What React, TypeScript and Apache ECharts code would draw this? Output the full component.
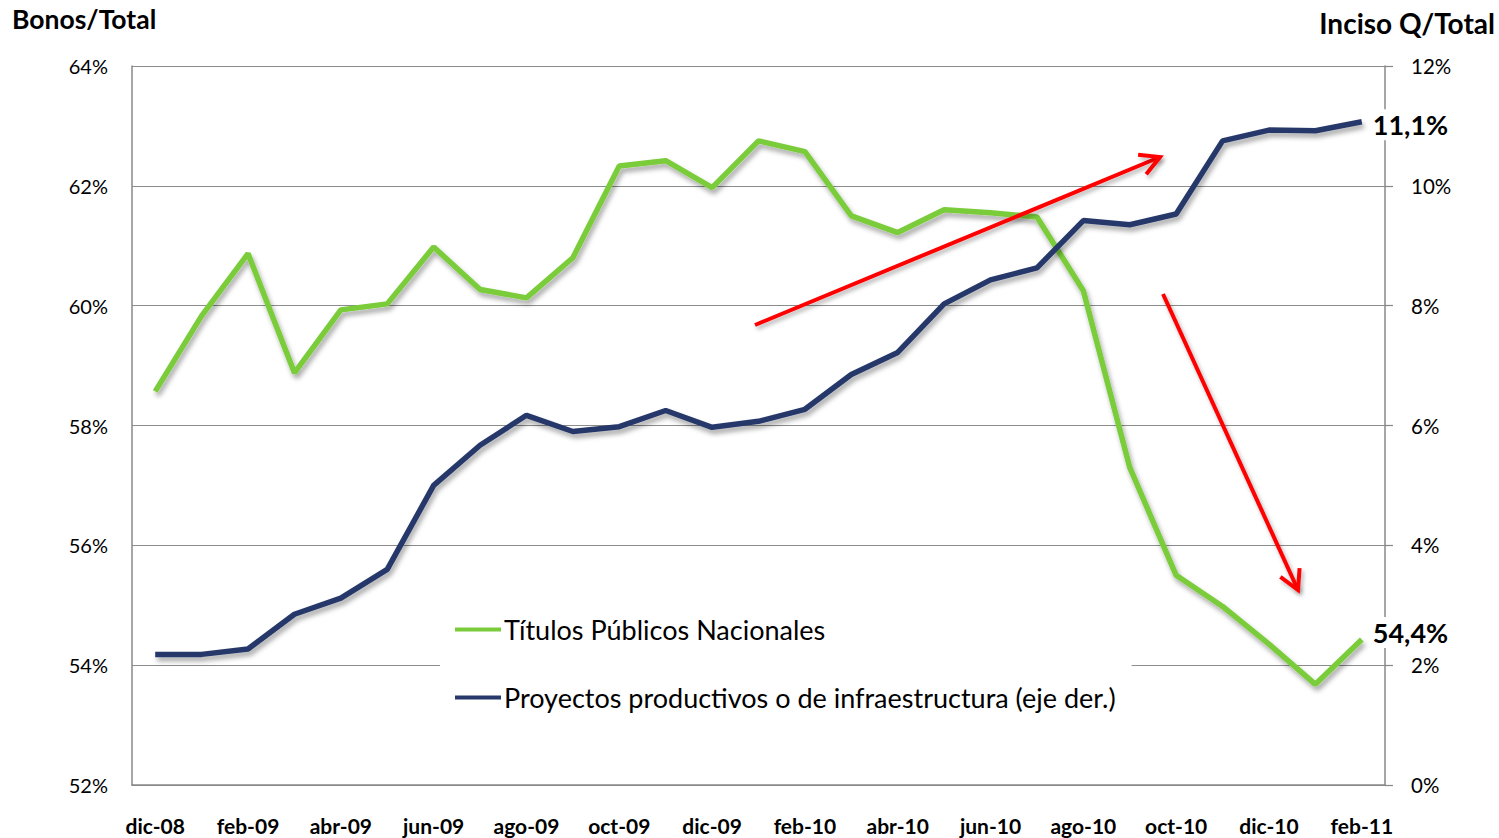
import React, { useEffect, useRef } from "react";
import * as echarts from "echarts";

const categories = [
  "dic-08", "ene-09", "feb-09", "mar-09", "abr-09", "may-09", "jun-09", "jul-09", "ago-09",
  "sep-09", "oct-09", "nov-09", "dic-09", "ene-10", "feb-10", "mar-10", "abr-10", "may-10",
  "jun-10", "jul-10", "ago-10", "sep-10", "oct-10", "nov-10", "dic-10", "ene-11", "feb-11",
];

const titulosPublicos = [
  58.57, 59.83, 60.87, 58.88, 59.93, 60.03, 60.98, 60.27, 60.13,
  60.8, 62.33, 62.42, 61.97, 62.75, 62.57, 61.5, 61.22, 61.6,
  61.55, 61.48, 60.25, 57.3, 55.5, 54.98, 54.35, 53.68, 54.43,
];

const proyectosProductivos = [
  2.18, 2.18, 2.27, 2.85, 3.12, 3.6, 5.0, 5.67, 6.17,
  5.9, 5.98, 6.25, 5.97, 6.07, 6.27, 6.85, 7.22, 8.03,
  8.43, 8.63, 9.42, 9.35, 9.53, 10.75, 10.93, 10.92, 11.07,
];

const seriesNames = ["Títulos Públicos Nacionales", "Proyectos productivos o de infraestructura (eje der.)"];
const axisTitles = ["Bonos/Total", "Inciso Q/Total"];

const FONT = "Lato, 'Open Sans', sans-serif";
const GREEN = "#7ACC3A";
const NAVY = "#26396A";

function arrow(x1: number, y1: number, x2: number, y2: number) {
  const ang = Math.atan2(y2 - y1, x2 - x1);
  const len = 22;
  const spread = 0.5;
  const p1 = [x2 - len * Math.cos(ang - spread), y2 - len * Math.sin(ang - spread)];
  const p2 = [x2 - len * Math.cos(ang + spread), y2 - len * Math.sin(ang + spread)];
  const shadow = { shadowColor: "rgba(0,0,0,0.3)", shadowBlur: 4, shadowOffsetX: 2, shadowOffsetY: 3 };
  return [
    { type: "line", shape: { x1, y1, x2, y2 }, style: { stroke: "#FF0000", lineWidth: 4, ...shadow }, z: 100 },
    { type: "polyline", shape: { points: [p1, [x2, y2], p2] }, style: { stroke: "#FF0000", lineWidth: 4, fill: null, lineJoin: "miter", ...shadow }, z: 100 },
  ];
}

function pctLabel(v: number) {
  return v.toFixed(1).replace(".", ",") + "%";
}

export default function App() {
  const ref = useRef<HTMLDivElement>(null);
  useEffect(() => {
    if (!ref.current) return;
    const chart = echarts.init(ref.current, undefined, { renderer: "svg" });
    const lineShadow = { shadowColor: "rgba(0,0,0,0.35)", shadowBlur: 5, shadowOffsetX: 2, shadowOffsetY: 4 };
    const endLabelBase = {
      show: true,
      distance: 8,
      formatter: (p: any) => pctLabel(Array.isArray(p.value) ? p.value[1] : p.value),
      fontSize: 27,
      fontWeight: "bold",
      color: "#000",
      backgroundColor: "#fff",
      padding: [2, 3, 2, 3],
      fontFamily: FONT,
    };
    chart.setOption({
      animation: false,
      textStyle: { fontFamily: FONT },
      grid: { left: 132, right: 114, top: 66, bottom: 53, containLabel: false },
      legend: {
        orient: "vertical",
        left: 440,
        top: 606,
        backgroundColor: "#ffffff",
        padding: [10, 16, 12, 15],
        itemGap: 41,
        itemWidth: 46,
        itemHeight: 4,
        icon: "rect",
        textStyle: { fontSize: 27, color: "#000", fontFamily: FONT, padding: [0, 0, 0, -2] },
        data: seriesNames,
        z: 50,
      },
      xAxis: {
        type: "category",
        data: categories,
        boundaryGap: true,
        axisLine: { lineStyle: { color: "#888", width: 1.5 } },
        axisTick: { show: false },
        axisLabel: { interval: 1, fontSize: 21, fontWeight: "bold", color: "#000", margin: 30, fontFamily: FONT },
      },
      yAxis: [
        {
          type: "value",
          min: 52,
          max: 64,
          interval: 2,
          position: "left",
          axisLine: { show: true, lineStyle: { color: "#888", width: 1.5 } },
          axisTick: { show: false },
          splitLine: { lineStyle: { color: "#8c8c8c", width: 1.2 } },
          axisLabel: { formatter: "{value}%", fontSize: 20, color: "#000", margin: 24, fontFamily: FONT },
        },
        {
          type: "value",
          min: 0,
          max: 12,
          interval: 2,
          position: "right",
          axisLine: { show: true, lineStyle: { color: "#888", width: 1.5 } },
          axisTick: { show: true, inside: false, length: 8, lineStyle: { color: "#888", width: 1.2 } },
          splitLine: { show: false },
          axisLabel: { formatter: "{value}%", fontSize: 20.5, color: "#000", margin: 26, fontFamily: FONT },
        },
      ],
      series: [
        {
          name: seriesNames[0],
          type: "line",
          yAxisIndex: 0,
          data: titulosPublicos,
          symbol: "none",
          lineStyle: { color: GREEN, width: 5.5, ...lineShadow },
          itemStyle: { color: GREEN },
          endLabel: { ...endLabelBase, offset: [0, -7] },
          z: 5,
        },
        {
          name: seriesNames[1],
          type: "line",
          yAxisIndex: 1,
          data: proyectosProductivos,
          symbol: "none",
          lineStyle: { color: NAVY, width: 5.5, ...lineShadow },
          itemStyle: { color: NAVY },
          endLabel: { ...endLabelBase, offset: [0, 3] },
          z: 6,
        },
      ],
      graphic: [
        {
          type: "text",
          left: 12,
          top: 5,
          style: { text: axisTitles[0], fontSize: 26.5, fontWeight: "bold", fill: "#000", fontFamily: FONT },
        },
        {
          type: "text",
          right: 4,
          top: 9,
          style: { text: axisTitles[1], fontSize: 28, fontWeight: "bold", fill: "#000", fontFamily: FONT },
        },
        ...arrow(755, 325, 1160, 157),
        ...arrow(1163, 294, 1298, 590),
      ],
    });
    return () => chart.dispose();
  }, []);
  return (
    <div
      ref={ref}
      style={{ position: "fixed", left: 0, top: 0, width: 1499, height: 838, background: "#fff" }}
    />
  );
}
